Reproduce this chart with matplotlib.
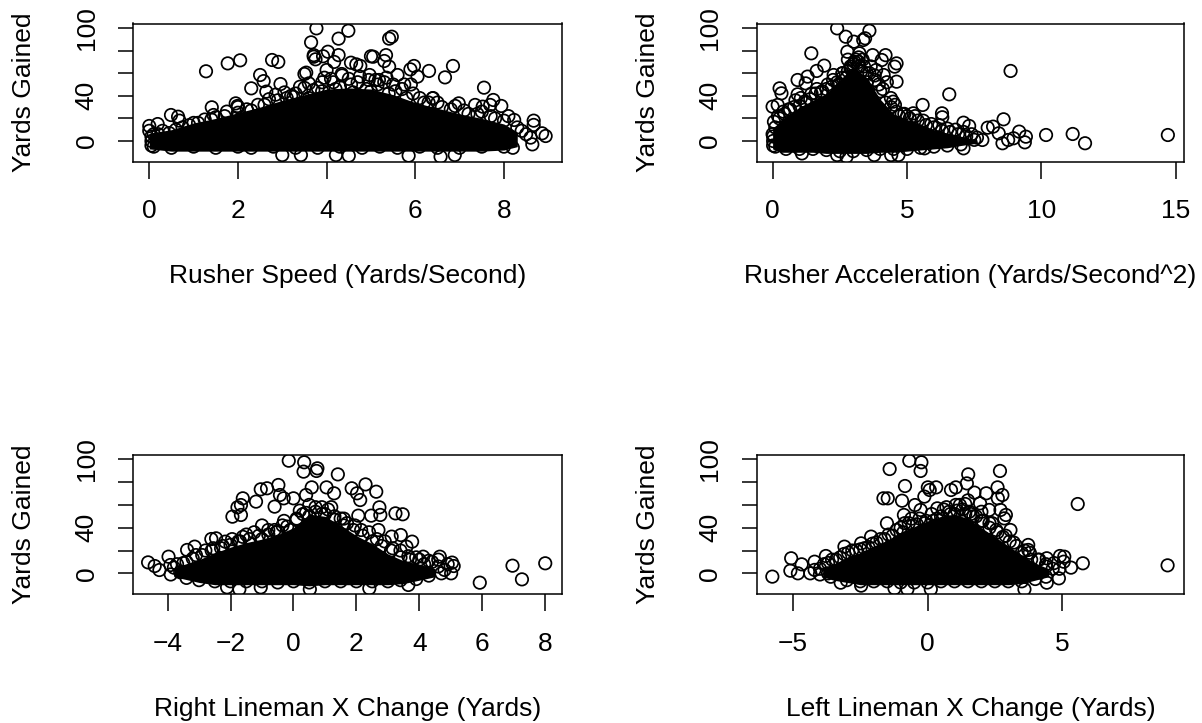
import matplotlib
matplotlib.use("Agg")
import matplotlib.pyplot as plt

plt.rcParams['font.family'] = ['Liberation Sans', 'DejaVu Sans']

W, H = 1202, 723
YTICKS = [0, 20, 40, 60, 80, 100]
YLABELS = ['0', '', '40', '', '', '100']

# ---- Panel 1: Rusher Speed ----
p1_out_x = [3.77,4.49,4.27,5.47,5.41,3.65,4.03,3.71,3.75,3.71,4.27,5.0,5.05,5.34,5.3,5.41,3.92,4.17,4.55,4.67,4.76,6.85,6.67,6.31,5.97,5.89,6.05,5.6,1.28,1.77,2.05,2.77,2.91,2.5,2.58,2.3,2.64,2.96,3.5,3.54,4.0,4.34,4.97,5.18,7.55,7.76,7.94,7.35,7.52,7.69,6.98,6.39,8.67,8.67,8.86,8.94,8.64,8.23,1.41,1.45,0.49,0.65,0.68,1.95,1.99,0,0.19,3,3.42,4.21,4.5,5.85,6.57,6.89]
p1_out_y = [99.7,97.6,90.6,92.3,90.6,87.3,79,76,72.3,74.6,76,75,74.6,76,70.8,65.8,75,70,69.3,67.8,66.4,66.4,56.3,62,66.4,63.4,57,58.4,61.7,68.7,71.4,71.7,70,58.4,53,46.6,43.7,50.4,59.3,60.5,62.8,59.3,58.4,54,47.2,36.3,31,31.9,30.4,31.9,33.3,37.8,18,14.2,6.8,4.4,-3,18.6,29.8,23,23,21.5,18,33.3,31,13.3,15,-12.4,-12.4,-12.4,-13,-13,-13.9,-12.4]
p1_edge_x = [0,0.1,0.3,0.6,0.9,1.1,1.4,1.7,2.0,2.3,2.6,2.9,3.1,3.3,3.5,3.7,3.9,4.1,4.3,4.5,4.7,4.9,5.1,5.3,5.5,5.7,5.9,6.1,6.3,6.5,6.8,7.1,7.4,7.7,8.0,8.3,8.5,0.1,0.5,1.0,1.5,2.0,2.3,2.8,3.3,3.8,4.3,4.8,5.2,5.6,6.1,6.5,7.0,7.5,8.0,8.2,3.2,3.6,3.9,4.2,4.6,5.0,5.4,5.8]
p1_edge_y = [9,6,9,10,14,16,19,22,25,27,32,36,38,42,47,45,52,55,48,55,52,46,54,52,50,46,50,38,34,34,28,27,24,22,18,12,6,-5,-6,-5,-6,-5,-6,-5,-6,-6,-5,-6,-5,-6,-5,-6,-6,-5,-5,-6,40,38,44,46,43,44,42,38]
p1_band_x = [0.05,0.05,0.05,0.2,0.45,0.75,1.0,1.25,1.5,1.75,2.0,2.2,2.45,2.7,2.85,3.05,3.25,3.4,3.6,3.8,3.95,4.15,4.35,4.55,4.75,4.95,5.15,5.35,5.55,5.75,5.95,6.2,6.4,6.6,6.9,7.2,7.5,7.8,8.1,8.4,8.6]
p1_band_y = [-4,0,4,6,7,12,16,19,21,26,30,28,32,37,41,43,39,48,51,47,56,52,58,50,57,54,50,56,44,50,42,34,38,30,31,24,26,20,22,9,3]
p1_core_x = [0,0.5,1,1.5,2,2.5,3,3.5,4,4.5,5,5.5,6,6.5,7,7.5,8,8.3]
p1_core_hi = [7,10,16,20,25,30,36,41,46,47,46,41,34,29,24,20,15,8]
p1_core_lo = [-7,-9,-9,-9,-9,-9,-9,-9,-9,-9,-9,-9,-9,-9,-9,-9,-8,-5]

# ---- Panel 2: Rusher Acceleration ----
p2_out_x = [2.4,3.6,2.72,3.44,3.37,3.02,1.44,2.78,3.23,3.72,4.2,4.06,4.61,4.54,1.92,1.64,1.3,0.93,1.23,0.26,0.33,0.93,0,0.19,4.61,2.27,4.13,3.85,4.48,5.58,5.23,6.3,6.31,6.57,7.1,7.31,8.85,8.59,8.0,8.2,8.41,8.55,8.76,9.17,9.42,9.38,8.96,10.17,11.16,11.62,14.7,7.1,7.8,5.65,4.68,4.41,3.78,2.75,2.4,1.09]
p2_out_y = [99.7,97.6,92.3,90.9,89.4,87.9,77.6,79,77.6,76,76,71.7,68.7,65.8,66.7,62,57,54,51,46.6,42.2,41.3,30.4,31.9,52.5,58.4,58.4,62.8,34.8,31.9,24.5,24.5,21,41.3,16.2,13.3,62,19.2,11.8,12.7,6.8,-2,0.9,8.3,3.8,-1.2,2.4,5.3,6.2,-2,5.3,-6.5,0.9,-6.5,-12.4,-12.4,-12.4,-13.9,-12.4,-11]
p2_edge_x = [0,0.05,0.2,0.4,0.6,0.8,1.0,1.2,1.4,1.6,1.8,2.0,2.2,2.4,2.6,2.8,3.0,3.2,3.4,3.6,3.8,4.0,4.2,4.4,4.6,4.8,5.0,5.3,5.6,5.9,6.2,6.5,6.8,7.1,7.4,7.6,0.1,0.5,1.0,1.5,2.0,2.5,3.0,3.5,4.0,4.5,5.0,5.5,6.0,6.5,7.0,2.6,2.9,3.1,3.3,2.8,3.2,3.0,3.5]
p2_edge_y = [6,17,22,26,28,30,31,35,37,42,43,46,48,52,56,62,68,70,66,60,54,44,34,30,26,24,22,22,18,15,14,11,10,8,6,3,-5,-7,-7,-7,-8,-9,-9,-8,-7,-7,-7,-6,-5,-4,-3,60,66,72,62,72,74,58,52]
p2_band_x = [0.02,0.02,0.02,0.1,0.25,0.45,0.65,0.85,1.05,1.25,1.45,1.65,1.85,2.05,2.25,2.45,2.6,2.75,2.9,3.05,3.2,3.35,3.5,3.65,3.8,3.95,4.1,4.25,4.4,4.55,4.7,4.9,5.1,5.4,5.7,6.0,6.3,6.6,6.9,7.2,7.5]
p2_band_y = [-4,0,4,12,20,24,28,36,38,34,42,46,44,50,54,50,60,56,64,70,66,72,60,66,58,50,46,52,38,32,22,24,20,18,14,12,9,8,6,4,1]
p2_core_x = [0,0.3,0.7,1,1.5,2,2.5,3,3.5,4,4.5,5,5.5,6,6.5,7,7.6]
p2_core_hi = [11,18,25,30,36,42,54,66,56,37,24,19,15,10,7,4,1]
p2_core_lo = [-7,-10,-10,-10,-10,-11,-11,-11,-11,-10,-10,-9,-8,-7,-6,-4,-2]

# ---- Panel 3: Right Lineman X Change ----
p3_out_x = [-4.62,-4.41,-4.26,-3.97,-3.91,-3.38,-3.14,-2.61,-2.46,-2.17,-1.61,-1.94,-1.78,-1.67,-1.61,-1.67,-1.19,-1.04,-0.84,-0.48,-0.43,-0.31,-0.6,0,-0.15,0.34,0.32,0.76,0.73,1.41,0.58,1.05,0.4,1.29,1.85,2.29,2.02,2.12,2.63,2.73,2.76,2.47,2.06,3.24,3.47,2.7,3.12,3.41,3.77,3.59,4.12,4.65,5.04,5.09,5.01,5.92,6.96,7.26,8,-2.11,-1.72,-1.04,0.52,2.41,3.65]
p3_out_y = [9.6,6.4,2.9,14.6,7.3,20.5,23.4,30.1,30.7,27.8,32,49.7,57.9,59.9,65.8,51.2,62.9,73.7,74.6,77.5,68.7,65.8,58.5,65.8,98.8,97.4,89.2,92.1,89.8,86.8,75.4,75.4,68.7,70.2,74.6,78,70.2,64.3,71.6,57.9,51.2,50.6,50.6,52.6,51.8,38,32.2,33.6,27.8,23.4,14.6,14.6,9.4,6.4,0,-8.2,6.7,-5.3,8.8,-12.3,-14,-12.3,-14,-13.2,-10.2]
p3_edge_x = [-3.8,-3.5,-3.2,-2.9,-2.6,-2.3,-2.0,-1.7,-1.4,-1.1,-0.8,-0.5,-0.2,0.1,0.4,0.7,1.0,1.3,1.6,1.9,2.2,2.5,2.8,3.1,3.4,3.7,4.0,4.3,4.6,4.9,-3.4,-3.0,-2.5,-2.0,-1.5,-1.0,-0.5,0,0.5,1.0,1.5,2.0,2.5,3.0,3.4,3.9,4.3,4.7,-1.0,-0.6,-0.3,0.2,0.5,0.9,1.2,1.6]
p3_edge_y = [5,9,13,16,20,22,25,28,30,33,34,37,41,47,53,54,52,47,42,38,33,28,24,20,14,12,12,11,12,8,-4,-6,-7,-7,-7,-7,-8,-7,-8,-7,-7,-7,-7,-7,-6,-5,-2,0,42,38,46,55,60,58,58,48]
p3_band_x = [-3.7,-3.4,-3.1,-2.8,-2.55,-2.25,-1.95,-1.75,-1.5,-1.25,-1.0,-0.8,-0.55,-0.35,-0.1,0.1,0.3,0.5,0.7,0.9,1.1,1.3,1.5,1.7,1.95,2.15,2.4,2.65,2.9,3.15,3.4,3.65,3.9,4.15,4.4,4.6,4.8,-3.9,-3.6]
p3_band_y = [8,10,16,20,22,24,30,28,34,36,30,38,36,42,38,48,52,50,58,52,56,50,48,44,42,38,36,30,28,22,20,15,14,8,10,6,3,-1,1]
p3_core_x = [-3.8,-3,-2.5,-2,-1.5,-1,-0.5,0,0.5,1,1.5,2,2.5,3,3.5,4,4.5]
p3_core_hi = [5,12,18,23,27,30,34,40,52,50,42,33,26,17,11,8,4]
p3_core_lo = [-3,-8,-10,-10,-10,-10,-10,-10,-11,-10,-10,-10,-10,-10,-9,-6,-3]

# ---- Panel 4: Left Lineman X Change ----
p4_out_x = [-5.77,-5.07,-5.1,-4.68,-4.82,-4.36,-4.2,-3.78,-3.09,-2.47,-2.1,-1.51,-1.64,-1.48,-1.41,-0.68,-0.23,-0.26,-0.84,-0.95,-0.88,-0.47,-0.26,0.01,0.08,0.32,-0.12,0.36,0.87,1.05,1.51,1.46,1.74,1.4,2.18,2.69,2.6,2.78,2.61,1.95,2.29,2.71,2.91,2.85,3.08,3.74,3.74,4.43,4.92,5.08,5.06,4.88,5.33,5.77,5.58,8.92,-3.23,-2.47,-1.23,-0.75,0.12,3.6,4.43]
p4_out_y = [-2.9,13.2,2.3,7.9,0,0,10.2,15.2,23.4,26.3,32.2,43.9,65.8,65.8,91.5,98.8,97.4,89.8,76.6,63.7,51.2,59.9,55.6,75.4,73.1,75.4,67.3,57,73.1,75.4,86.8,78.9,70.8,60.8,70.2,89.8,75.4,68.7,65.8,61.4,55.6,55.6,51.2,48.2,38,24.9,20.5,13.2,15.2,14.6,10.2,-4.4,5,8.8,60.8,7,-8.2,-10.8,-13.2,-14,-14,-14,-8.2]
p4_edge_x = [-4.0,-3.7,-3.4,-3.1,-2.8,-2.5,-2.2,-1.9,-1.6,-1.3,-1.0,-0.7,-0.4,-0.1,0.2,0.5,0.8,1.1,1.4,1.7,2.0,2.3,2.6,2.9,3.2,3.5,3.8,4.1,4.4,4.7,4.9,-3.6,-3.0,-2.5,-2.0,-1.5,-1.0,-0.5,0,0.5,1.0,1.5,2.0,2.5,3.0,3.5,4.0,4.4,-0.9,-0.6,-0.2,0.3,0.7,1.2,1.6,2.0,2.4,1.0,1.5]
p4_edge_y = [4,9,12,17,20,21,23,27,30,33,40,44,43,44,46,50,54,55,52,50,46,40,36,33,27,18,18,12,8,9,4,-3,-6,-7,-7,-7,-8,-8,-8,-7,-7,-7,-7,-7,-7,-7,-5,-3,36,48,34,42,58,60,52,54,44,52,64]
p4_band_x = [-4.2,-3.85,-3.55,-3.25,-2.95,-2.65,-2.35,-2.05,-1.75,-1.45,-1.15,-0.85,-0.55,-0.3,-0.05,0.15,0.35,0.6,0.85,1.05,1.3,1.55,1.8,2.05,2.3,2.55,2.8,3.05,3.3,3.6,3.85,4.15,4.4,4.65,-4.0,-3.7]
p4_band_y = [3,8,12,14,18,20,22,26,30,34,38,44,42,48,46,52,48,56,52,60,56,54,50,46,44,38,32,28,24,20,12,12,6,4,-1,0]
p4_core_x = [-3.9,-3.5,-3,-2.5,-2,-1.5,-1,-0.5,0,0.5,1,1.5,2,2.5,3,3.5,4,4.5]
p4_core_hi = [4,8,14,18,24,29,36,41,46,50,52,48,40,32,24,16,9,4]
p4_core_lo = [-3,-6,-8,-10,-10,-10,-10,-10,-10,-10,-10,-10,-10,-10,-10,-9,-6,-3]

LEFT = (133.3, 561.6)
RIGHT = (757, 1184)
TOP = (23.5, 162)
BOTTOM = (455, 594.3)

panels = [
    dict(box=LEFT + TOP, xlim=(-0.36, 9.3), ylim=(-18.6, 104),
         xt=[0, 2, 4, 6, 8], xl=['0', '2', '4', '6', '8'], label='Rusher Speed (Yards/Second)',
         xs=[p1_out_x, p1_edge_x, p1_band_x], ys=[p1_out_y, p1_edge_y, p1_band_y],
         cx=p1_core_x, hi=p1_core_hi, lo=p1_core_lo),
    dict(box=RIGHT + TOP, xlim=(-0.58, 15.3), ylim=(-18.6, 104),
         xt=[0, 5, 10, 15], xl=['0', '5', '10', '15'], label='Rusher Acceleration (Yards/Second^2)',
         xs=[p2_out_x, p2_edge_x, p2_band_x], ys=[p2_out_y, p2_edge_y, p2_band_y],
         cx=p2_core_x, hi=p2_core_hi, lo=p2_core_lo),
    dict(box=LEFT + BOTTOM, xlim=(-5.09, 8.52), ylim=(-18.4, 103.8),
         xt=[-4, -2, 0, 2, 4, 6, 8], xl=['\u22124', '\u22122', '0', '2', '4', '6', '8'],
         label='Right Lineman X Change (Yards)',
         xs=[p3_out_x, p3_edge_x, p3_band_x], ys=[p3_out_y, p3_edge_y, p3_band_y],
         cx=p3_core_x, hi=p3_core_hi, lo=p3_core_lo),
    dict(box=RIGHT + BOTTOM, xlim=(-6.34, 9.53), ylim=(-18.4, 103.8),
         xt=[-5, 0, 5], xl=['\u22125', '0', '5'], label='Left Lineman X Change (Yards)',
         xs=[p4_out_x, p4_edge_x, p4_band_x], ys=[p4_out_y, p4_edge_y, p4_band_y],
         cx=p4_core_x, hi=p4_core_hi, lo=p4_core_lo),
]

fig = plt.figure(figsize=(W / 100, H / 100), dpi=100)
FS = 19
LW = 1.25
SIZE = 80
for p in panels:
    x0, x1, y0, y1 = p['box']
    ax = fig.add_axes([x0 / W, 1 - y1 / H, (x1 - x0) / W, (y1 - y0) / H])
    # The solid core stands for the circles that overplot into pure black in the reference.
    ax.fill_between(p['cx'], p['lo'], p['hi'], color='black', lw=0, zorder=2)
    for xs, ys in zip(p['xs'], p['ys']):
        ax.scatter(xs, ys, s=SIZE, facecolors='none', edgecolors='black', linewidths=LW, zorder=3)
    ax.set_xlim(*p['xlim'])
    ax.set_ylim(*p['ylim'])
    ax.set_xticks(p['xt'], p['xl'])
    ax.set_yticks(YTICKS, YLABELS)
    ax.tick_params(axis='x', length=12, width=1.1, labelsize=FS, pad=15)
    ax.tick_params(axis='y', length=11, width=1.1, labelsize=FS, pad=14)
    for t in ax.get_yticklabels():
        t.set_rotation(90)
        t.set_va('center')
    for s in ax.spines.values():
        s.set_linewidth(1.1)
    ax.set_ylabel('Yards Gained', fontsize=FS, va='center')
    ax.yaxis.set_label_coords(-0.255, 0.5)
    fig.text((x0 + x1) / 2 / W, 1 - (y1 + 114.5) / H, p['label'], fontsize=FS, ha='center', va='center')

fig.savefig('out.png', dpi=100)
